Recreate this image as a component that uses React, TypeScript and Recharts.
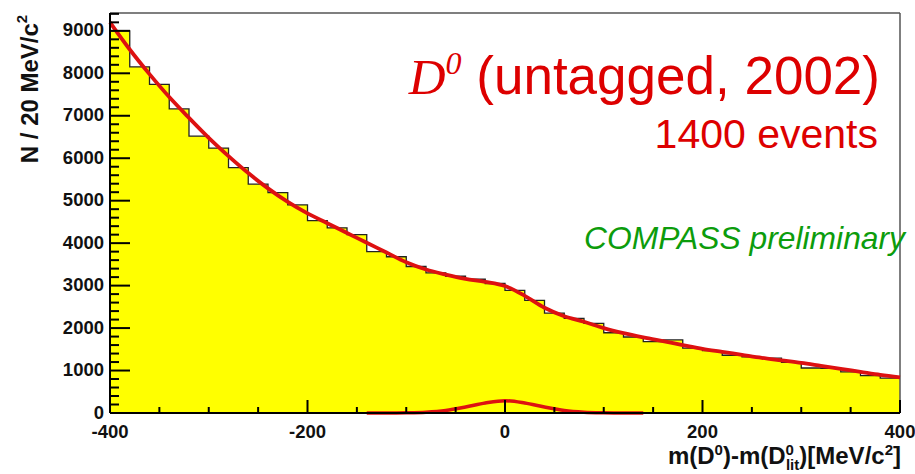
import { Area, ComposedChart, Line, ReferenceLine, XAxis, YAxis } from "recharts"

// bin edges in MeV/c^2 (20 MeV bins)
const massEdges = [
  -400, -380, -360, -340, -320, -300, -280, -260, -240, -220, -200, -180, -160, -140,
  -120, -100, -80, -60, -40, -20, 0, 20, 40, 60, 80, 100, 120, 140, 160, 180, 200, 220,
  240, 260, 280, 300, 320, 340, 360, 380, 400,
]

// histogram entries per bin (40 bins)
const binCounts = [
  9000, 8150, 7740, 7160, 6520, 6240, 5780, 5390, 5190, 4900, 4530, 4360, 4200, 3800,
  3680, 3450, 3300, 3220, 3150, 3050, 2890, 2650, 2350, 2230, 2110, 1890, 1790, 1680,
  1720, 1530, 1470, 1360, 1320, 1290, 1190, 1060, 1050, 970, 880, 820,
]

// total fit, sampled at the edges
const fitValues = [
  9200, 8560, 7980, 7440, 6950, 6480, 6050, 5650, 5290, 4970, 4700, 4470, 4240, 4010,
  3780, 3550, 3380, 3260, 3160, 3090, 2990, 2760, 2480, 2280, 2150, 2000, 1880, 1780,
  1690, 1600, 1510, 1440, 1370, 1300, 1240, 1180, 1110, 1040, 970, 900, 840,
]

// signal peak component
const signalValues = [
  null, null, null, null, null, null, null, null, null, null, null, null, null, 0,
  0, 5, 20, 60, 140, 235, 290, 235, 140, 60, 20, 5, 0, 0,
  null, null, null, null, null, null, null, null, null, null, null, null, null,
]

const yTicks = [
  0, 200, 400, 600, 800, 1000, 1200, 1400, 1600, 1800, 2000, 2200, 2400, 2600, 2800, 3000,
  3200, 3400, 3600, 3800, 4000, 4200, 4400, 4600, 4800, 5000, 5200, 5400, 5600, 5800, 6000,
  6200, 6400, 6600, 6800, 7000, 7200, 7400, 7600, 7800, 8000, 8200, 8400, 8600, 8800, 9000,
  9200, 9400,
]
const xTicks = [-400, -350, -300, -250, -200, -150, -100, -50, 0, 50, 100, 150, 200, 250, 300, 350, 400]

const table = massEdges.map((m, i) => ({
  mass: m,
  counts: binCounts[Math.min(i, binCounts.length - 1)],
  fit: fitValues[i],
  signal: signalValues[i],
}))

const SANS = "'Liberation Sans', Arial, Helvetica, sans-serif"
const SERIF = "'Liberation Serif', 'Times New Roman', serif"
const RED = "#dd0000"

function YTick({ x, y, payload }: any) {
  const major = payload.value % 1000 === 0
  return (
    <g>
      <line x1={x} x2={x + (major ? 20 : 9)} y1={y} y2={y} stroke="#000" strokeWidth={2} />
      {major && (
        <text x={x - 6} y={y - 1} dy="0.36em" textAnchor="end" fontSize={18.5} fontWeight="bold" fontFamily={SANS} fill="#111">
          {payload.value}
        </text>
      )}
    </g>
  )
}

function XTick({ x, y, payload }: any) {
  const major = payload.value % 200 === 0
  return (
    <g>
      <line x1={x} x2={x} y1={y} y2={y - (major ? 13 : 6)} stroke="#000" strokeWidth={2} />
      {major && (
        <text x={x} y={y + 25} textAnchor="middle" fontSize={18.5} fontWeight="bold" fontFamily={SANS} fill="#111">
          {payload.value}
        </text>
      )}
    </g>
  )
}

export default function App() {
  return (
    <div style={{ position: "absolute", left: 0, top: 0, width: 915, height: 474, background: "#fff", overflow: "hidden" }}>
      <ComposedChart
        width={915}
        height={474}
        data={table}
        margin={{ top: 13, right: 15, bottom: 31, left: 50 }}
      >
        <XAxis
          dataKey="mass"
          type="number"
          domain={[-400, 400]}
          ticks={xTicks}
          interval={0}
          tickSize={0}
          tickMargin={0}
          tickLine={false}
          tick={<XTick />}
          height={30}
          axisLine={{ stroke: "#000", strokeWidth: 2 }}
        />
        <YAxis
          type="number"
          domain={[0, 9420]}
          ticks={yTicks}
          interval={0}
          tickSize={0}
          tickMargin={0}
          tickLine={false}
          tick={<YTick />}
          width={60}
          axisLine={{ stroke: "#000", strokeWidth: 2 }}
        />
        <Area
          type="stepAfter"
          dataKey="counts"
          stroke="#222"
          strokeWidth={1.3}
          fill="#ffff00"
          fillOpacity={1}
          isAnimationActive={false}
        />
        <ReferenceLine y={9420} stroke="#555" strokeWidth={1.5} />
        <ReferenceLine x={400} stroke="#555" strokeWidth={1.5} />
        <Line
          type="monotone"
          dataKey="signal"
          stroke="#dd1111"
          strokeWidth={3.5}
          dot={false}
          connectNulls={false}
          isAnimationActive={false}
        />
        <Line
          type="monotone"
          dataKey="fit"
          stroke="#dd1111"
          strokeWidth={3.8}
          dot={false}
          isAnimationActive={false}
        />
      </ComposedChart>
      <svg
        width={915}
        height={474}
        style={{ position: "absolute", left: 0, top: 0, pointerEvents: "none" }}
      >
        <text x={880} y={94} textAnchor="end" fill={RED}>
          <tspan fontFamily={SERIF} fontStyle="italic" fontSize={51}>D</tspan>
          <tspan fontFamily={SERIF} fontStyle="italic" fontSize={32} dy={-20}>0</tspan>
          <tspan fontFamily={SANS} fontSize={53} dy={20}> (untagged, 2002)</tspan>
        </text>
        <text x={878} y={148} textAnchor="end" fill={RED} fontFamily={SANS} fontSize={41}>
          1400 events
        </text>
        <text x={584} y={249} fill="#0c9c0c" fontFamily={SANS} fontStyle="italic" fontSize={31.8}>
          COMPASS preliminary
        </text>
        <text
          transform="translate(38, 89) rotate(-90)"
          textAnchor="middle"
          fontFamily={SANS}
          fontWeight="bold"
          fontSize={24}
          fill="#111"
        >
          N / 20 MeV/c<tspan fontSize={15} dy={-11}>2</tspan>
        </text>
        <text x={901} y={464} textAnchor="end" fontFamily={SANS} fontWeight="bold" fontSize={24} fill="#111">
          m(D<tspan fontSize={15} dy={-9}>0</tspan>
          <tspan dy={9}>)-m(D</tspan>
          <tspan fontSize={15} dy={-9}>0</tspan>
          <tspan fontSize={15} dx={-8} dy={15}>lit</tspan>
          <tspan dy={-6}>)[MeV/c</tspan>
          <tspan fontSize={15} dy={-9}>2</tspan>
          <tspan dy={9}>]</tspan>
        </text>
      </svg>
    </div>
  )
}
